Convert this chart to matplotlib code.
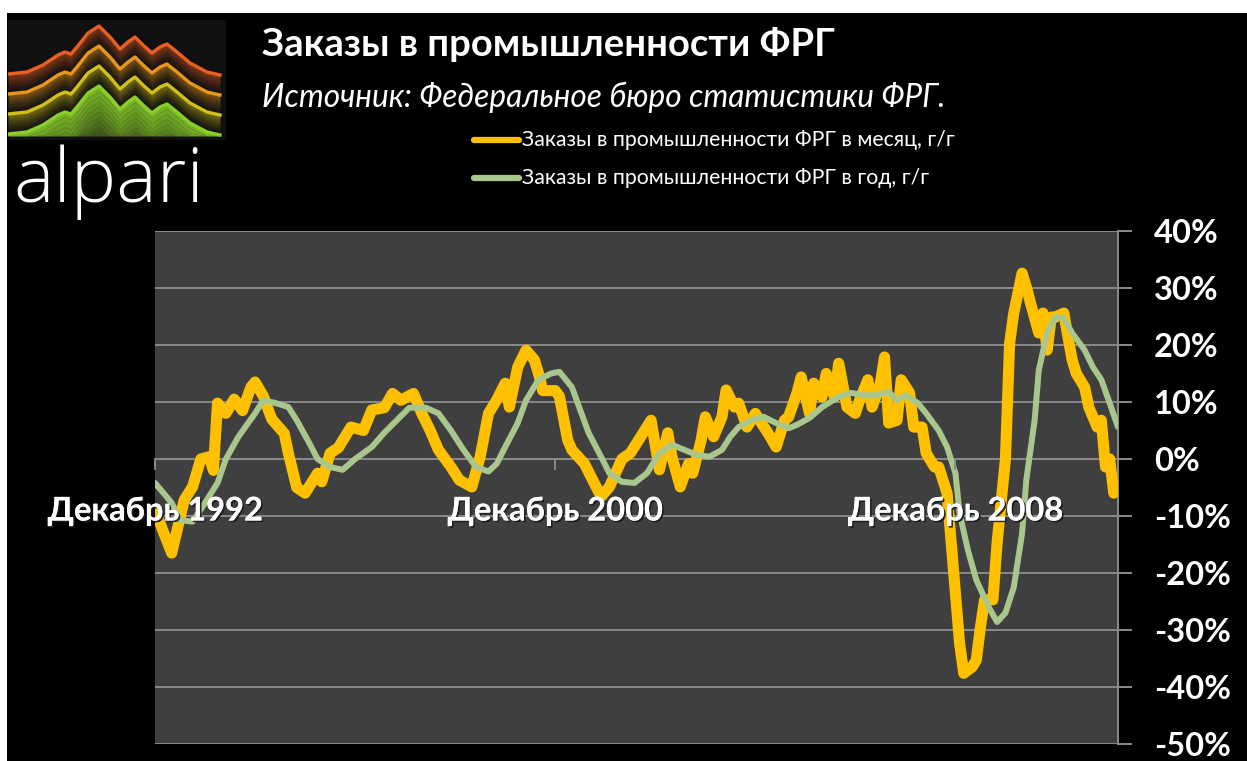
import matplotlib
matplotlib.use("Agg")
import matplotlib.pyplot as plt
import matplotlib.patheffects as pe
from matplotlib.patches import Rectangle
import numpy as np

# ---------------- data (months since December 1992) ----------------
months_monthly = [0, 4, 7, 9, 11, 13, 14, 15, 17, 19, 21, 23, 24, 26, 28, 31, 32, 34, 36, 39,
                  40, 42, 44, 47, 50, 52, 55, 57, 59, 62, 64, 66, 68, 71, 73, 76, 78, 80, 82, 84,
                  85, 87, 89, 91, 92, 93, 96, 97, 99, 100, 103, 105, 107, 109, 112, 114, 116, 119,
                  121, 123, 124, 126, 128, 129, 131, 132, 134, 136, 137, 139, 140, 142, 144, 145,
                  147, 149, 151, 152, 154, 155, 157, 158, 160, 161, 163, 164, 166, 168, 169, 171,
                  172, 174, 175, 176, 178, 179, 181, 182, 184, 185, 187, 188, 190, 191, 192, 193,
                  194, 196, 197, 198, 199, 201, 202, 204, 205, 206, 208, 209, 210, 212, 213, 214,
                  215, 216, 218, 219, 220, 221, 223, 224, 226, 227, 228, 229, 230]
orders_monthly_yoy = [-9, -16.5, -7.2, -4.9, 0, 0.4, -2, 9.8, 8, 10.5, 8.5, 12.6, 13.5, 11, 7, 4.5,
                      1, -5, -6, -2.5, -4, 1, 2, 5.6, 5, 8.6, 9, 11.5, 10.3, 11.5, 8, 5, 1.6, -1.4,
                      -3.7, -4.9, 0.4, 8, 10.4, 13.3, 9.1, 16.1, 19.1, 17.4, 15, 12, 12, 11, 3.3,
                      1.6, -0.8, -3.7, -6.6, -4.9, 0, 1, 3.3, 6.8, -1.9, 4.6, 0.4, -4.9, -0.8, -2.5,
                      3.3, 7.4, 3.9, 7.4, 12.1, 9.1, 9.8, 5.6, 8, 6.8, 4.6, 2.1, 6.8, 7.4, 11.6,
                      14.4, 8, 13.3, 10.9, 15, 10.9, 16.8, 9.1, 8, 10.3, 13.9, 9.1, 13.3, 17.9, 6.3,
                      6.8, 13.9, 11.6, 5.6, 5.6, 1, -1.4, -1.4, -6, -14.7, -23.5, -32.3, -37.6,
                      -36.5, -35.3, -29.5, -24.7, -24.7, -14.7, 0, 20.3, 25.6, 32.6, 30.2, 27.4,
                      22.1, 25.6, 19.1, 24.9, 24.9, 25.6, 21.4, 17.4, 15, 12.6, 9.1, 5.6, 6.8, -1.4,
                      0, -6]

months_annual = [0, 4, 6, 9, 12, 15, 17, 20, 24, 26, 29, 32, 34, 37, 39, 42, 45, 48, 52, 55, 58,
                 61, 65, 68, 71, 74, 77, 80, 82, 84, 87, 89, 92, 95, 97, 100, 102, 104, 107, 109,
                 112, 115, 118, 121, 124, 127, 130, 133, 136, 138, 140, 143, 146, 149, 152, 154,
                 157, 160, 164, 167, 170, 173, 176, 178, 180, 183, 185, 188, 190, 192, 193, 195,
                 197, 200, 202, 204, 206, 208, 209, 211, 212, 214, 216, 218, 220, 223, 225, 227,
                 229, 231]
orders_annual_yoy = [-4.2, -7.7, -10.7, -11, -7.7, -4.2, 0, 3.9, 8, 10.3, 9.8, 9.1, 6.8, 2.8, 0,
                     -1.4, -1.9, 0, 2.1, 4.6, 6.8, 9, 9, 8, 5, 1.6, -1.4, -2.2, -0.8, 2.1, 6.3,
                     10.3, 13.9, 15, 15.3, 12.6, 8.6, 4.6, 0.4, -2.5, -4, -4.2, -2.5, 1, 2.5, 1.6,
                     0.7, 0.4, 1.6, 3.9, 5.6, 6.8, 7.4, 6.3, 5.4, 6, 7.2, 9.1, 10.9, 11.6, 11.2,
                     11.2, 11.8, 10.3, 11.2, 9.8, 8, 5, 2.1, -2.5, -9.5, -16, -21.2, -26, -28.6,
                     -27, -22.5, -13, -3.7, 6.8, 15.6, 22.1, 24.9, 24.7, 22.1, 19.1, 16.1, 13.9,
                     9.8, 5.6]

x_tick_months = [0, 96, 192]
x_tick_labels = ["Декабрь 1992", "Декабрь 2000", "Декабрь 2008"]
y_tick_values = [40, 30, 20, 10, 0, -10, -20, -30, -40, -50]
y_tick_labels = ["40%", "30%", "20%", "10%", "0%", "-10%", "-20%", "-30%", "-40%", "-50%"]

title_text = "Заказы в промышленности ФРГ"
subtitle_text = "Источник: Федеральное бюро статистики ФРГ."
series_names = ["Заказы в промышленности ФРГ в месяц, г/г",
                "Заказы в промышленности ФРГ в год, г/г"]

# ---------------- styling ----------------
FONT = ["Lato", "DejaVu Sans"]
plt.rcParams["font.family"] = FONT
W, H = 1247, 761
YELLOW = "#FFC000"
GREEN = "#A9C78C"
GRID = "#8a8a8a"

fig = plt.figure(figsize=(W / 100, H / 100), dpi=100, facecolor="black")

# white border strips (top and left)
fig.patches.append(Rectangle((0, 1 - 13 / H), 1, 13 / H, transform=fig.transFigure,
                             facecolor="white", edgecolor="none", zorder=0))
fig.patches.append(Rectangle((0, 0), 7 / W, 1, transform=fig.transFigure,
                             facecolor="white", edgecolor="none", zorder=0))

# ---------------- main axes ----------------
L, R, T, B = 155, 1118, 231, 744
ax = fig.add_axes([L / W, 1 - B / H, (R - L) / W, (B - T) / H])
ax.set_facecolor("#3f3f3f")

ax.plot(months_monthly, orders_monthly_yoy, color=YELLOW, lw=8, solid_joinstyle="round",
        solid_capstyle="round", zorder=3)
ax.plot(months_annual, orders_annual_yoy, color=GREEN, lw=4.3, solid_joinstyle="round",
        solid_capstyle="round", zorder=4)

ax.set_xlim(0, 231)
ax.set_ylim(-50, 40)

ax.set_yticks(y_tick_values)
ax.set_yticklabels(y_tick_labels)
ax.yaxis.tick_right()
ax.grid(axis="y", color=GRID, lw=1.4, zorder=1)
ax.set_axisbelow(True)
ax.tick_params(axis="y", which="both", direction="out", length=10, width=1.4, color=GRID,
               pad=16, labelsize=23.5, labelcolor="white")
for t in ax.get_yticklabels():
    t.set_fontweight("bold")

ax.spines["bottom"].set_position(("data", 0))
ax.spines["bottom"].set_color(GRID)
ax.spines["bottom"].set_linewidth(1.4)
ax.spines["bottom"].set_zorder(2)
ax.spines["right"].set_color(GRID)
ax.spines["right"].set_linewidth(1.4)
ax.spines["top"].set_visible(False)
ax.spines["left"].set_visible(False)

ax.set_xticks(x_tick_months)
ax.set_xticklabels(x_tick_labels)
ax.tick_params(axis="x", direction="out", length=8, width=1.4, color=GRID, pad=19,
               labelsize=23.5, labelcolor="white")
for t in ax.get_xticklabels():
    t.set_fontweight("bold")
    t.set_zorder(10)
    t.set_path_effects([pe.withSimplePatchShadow(offset=(1.2, -1.2), shadow_rgbFace="#1a1a1a",
                                                 alpha=0.9), pe.Normal()])
ax.xaxis.set_zorder(10)

# ---------------- header ----------------
fig.text(262 / W, 1 - 45 / H, title_text, color="white", fontsize=27.5, fontweight="bold",
         va="center", ha="left")
fig.text(262 / W, 1 - 97 / H, subtitle_text, color="white", fontsize=22.8, style="italic",
         va="center", ha="left")

# legend
legend_y = [140, 178]
legend_colors = [YELLOW, GREEN]
for name, yy, col in zip(series_names, legend_y, legend_colors):
    fig.add_artist(plt.Line2D([474 / W, 519 / W], [1 - yy / H, 1 - yy / H], color=col, lw=4.5,
                              solid_capstyle="round", transform=fig.transFigure))
    fig.text(522 / W, 1 - yy / H, name, color="white", fontsize=15.3, va="center", ha="left")

# ---------------- logo ----------------
lg = fig.add_axes([8 / W, 1 - 140 / H, 218 / W, 120 / H])
lg.set_xlim(0, 218)
lg.set_ylim(120, 0)
lg.axis("off")
lg.add_patch(Rectangle((0, 0), 218, 120, facecolor="#101010", edgecolor="none", zorder=0))
prof_x = np.array([0, 19, 35, 50, 57, 63, 69, 80, 91, 102, 112, 120, 127, 135, 144, 152, 159,
                   169, 182, 199, 212])
prof_y = np.array([54, 52, 45, 35, 32, 34, 27, 13, 6, 17, 29, 22, 17, 25, 33, 27, 24, 32, 43,
                   52, 55])
layer_cols = ["#EA5F24", "#E8961C", "#D2C01A", "#8ACF2A"]
for i, col in enumerate(layer_cols):
    yv = prof_y + 20 * i
    if i < 3:
        depth, nb = 20, 10
        for k in range(nb):
            top = yv + depth * k / nb
            bot = yv + depth * (k + 1) / nb
            lg.fill_between(prof_x, top, bot, color=col, alpha=0.55 * (1 - k / nb) ** 1.6,
                            lw=0, zorder=1 + i)
    else:
        nb = 12
        for k in range(nb):
            top = np.minimum(yv + 60 * k / nb, 116)
            bot = np.minimum(yv + 60 * (k + 1) / nb, 116)
            lg.fill_between(prof_x, top, bot, color=col, alpha=0.85 * (1 - 0.75 * k / nb),
                            lw=0, zorder=1 + i)
    lg.plot(prof_x, yv, color=col, lw=2.4, zorder=6 + i, solid_joinstyle="round")

fig.text(13 / W, 1 - 182 / H, "alpari", color="white", fontsize=55, fontweight="light",
         va="center", ha="left", family=["Open Sans", "Lato", "DejaVu Sans"])

fig.savefig("out.png", dpi=100, facecolor="black")
